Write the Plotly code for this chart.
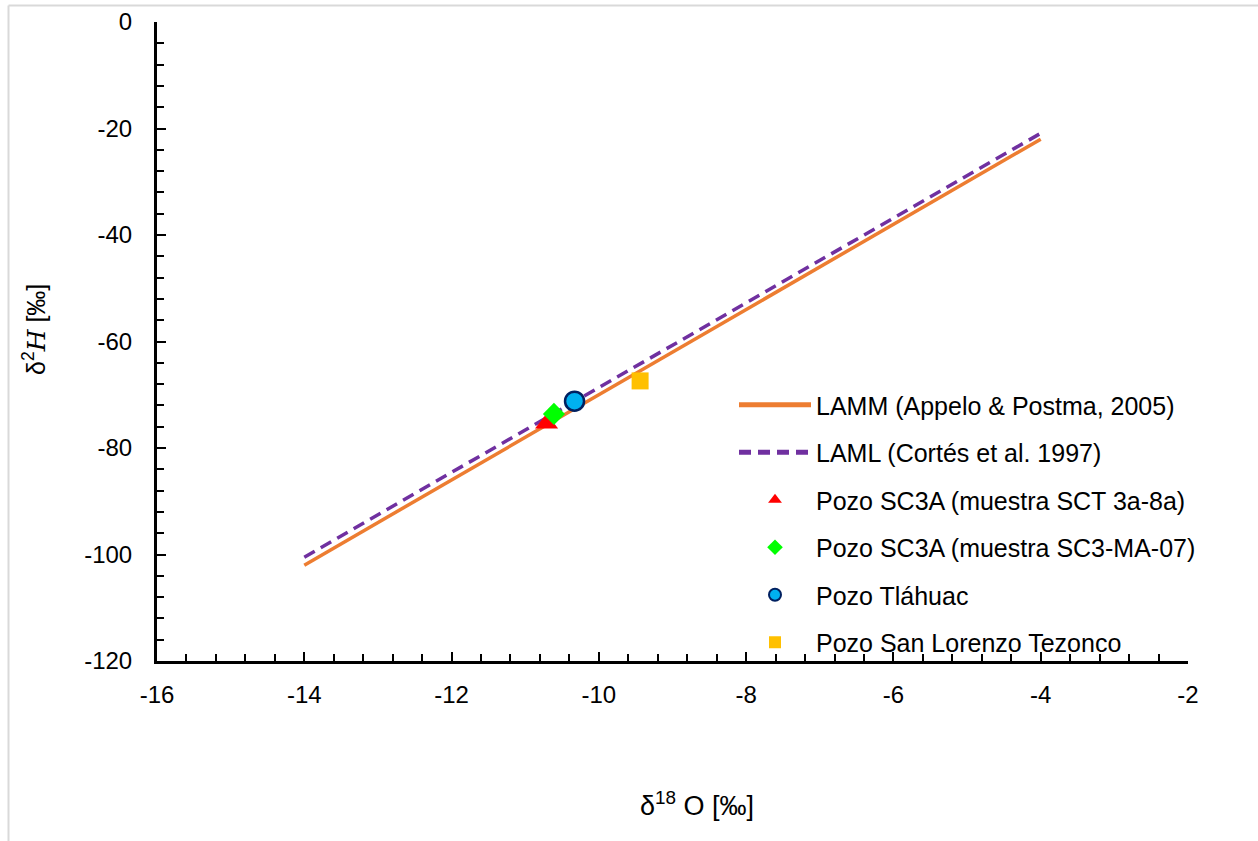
import plotly.graph_objects as go

# Meteoric water lines (endpoints)
lamm_x = [-14, -4]
lamm_y = [-102.0, -22.0]
laml_x = [-14, -4]
laml_y = [-100.5, -20.9]

# Well samples
sct_x = [-10.71]
sct_y = [-75.4]
ma07_x = [-10.61]
ma07_y = [-73.6]
tlah_x = [-10.33]
tlah_y = [-71.2]
slt_x = [-9.44]
slt_y = [-67.4]

names = [
    "LAMM (Appelo & Postma, 2005)",
    "LAML (Cortés et al. 1997)",
    "Pozo SC3A (muestra SCT 3a-8a)",
    "Pozo SC3A (muestra SC3-MA-07)",
    "Pozo Tláhuac",
    "Pozo San Lorenzo Tezonco",
]

x_tickvals = [-16, -14, -12, -10, -8, -6, -4, -2]
x_ticktext = ["-16", "-14", "-12", "-10", "-8", "-6", "-4", "-2"]
y_tickvals = [0, -20, -40, -60, -80, -100, -120]
y_ticktext = ["0", "-20", "-40", "-60", "-80", "-100", "-120"]

FONT = "Liberation Sans, Arial, sans-serif"
FS = 24

fig = go.Figure()
fig.add_trace(go.Scatter(x=lamm_x, y=lamm_y, mode="lines", name=names[0], legendgroup="a",
                         line=dict(color="#ED7D31", width=3.5)))
fig.add_trace(go.Scatter(x=laml_x, y=laml_y, mode="lines", name=names[1], legendgroup="b",
                         line=dict(color="#7030A0", width=3.5, dash="12px,7px")))
fig.add_trace(go.Scatter(x=sct_x, y=sct_y, mode="markers", name=names[2], legendgroup="c",
                         marker=dict(symbol="triangle-up", color="#FF0000", size=20)))
fig.add_trace(go.Scatter(x=ma07_x, y=ma07_y, mode="markers", name=names[3], legendgroup="d",
                         marker=dict(symbol="diamond", color="#00FF00", size=17)))
fig.add_trace(go.Scatter(x=tlah_x, y=tlah_y, mode="markers", name=names[4], legendgroup="e",
                         marker=dict(symbol="circle", color="#00B0F0", size=19,
                                     line=dict(color="#002060", width=2.5))))
fig.add_trace(go.Scatter(x=slt_x, y=slt_y, mode="markers", name=names[5], legendgroup="f",
                         marker=dict(symbol="square", color="#FFC000", size=17)))

L, R, T, B = 157, 70, 22, 180
W, H = 1258, 841
pw = W - L - R
ph = H - T - B

def px(xp):
    return (xp - L) / pw

def py(yp):
    return (H - B - yp) / ph

fig.update_layout(
    width=W, height=H,
    margin=dict(l=L, r=R, t=T, b=B, pad=0, autoexpand=False),
    paper_bgcolor="white", plot_bgcolor="white",
    font=dict(family=FONT, size=FS, color="black"),
    showlegend=True,
    legend=dict(x=px(734), y=py(382), xanchor="left", yanchor="top",
                bgcolor="rgba(0,0,0,0)", font=dict(family=FONT, size=25, color="black"),
                tracegroupgap=12, itemsizing="constant", itemwidth=72),
    xaxis=dict(range=[-16, -2], tickvals=x_tickvals, ticktext=x_ticktext,
               showgrid=False, zeroline=False, automargin=False,
               showline=True, linecolor="black", linewidth=3,
               ticks="inside", ticklen=9, tickwidth=2, tickcolor="black",
               ticklabelstandoff=10,
               minor=dict(dtick=0.4, tick0=-16, ticks="inside", ticklen=7, tickwidth=2,
                          tickcolor="black", showgrid=False),
               tickfont=dict(family=FONT, size=FS, color="black")),
    yaxis=dict(range=[-120, 0], tickvals=y_tickvals, ticktext=y_ticktext,
               showgrid=False, zeroline=False, automargin=False,
               showline=True, linecolor="black", linewidth=3,
               ticks="inside", ticklen=9, tickwidth=2, tickcolor="black",
               ticklabelstandoff=17,
               minor=dict(dtick=4, tick0=0, ticks="inside", ticklen=7, tickwidth=2,
                          tickcolor="black", showgrid=False),
               tickfont=dict(family=FONT, size=FS, color="black")),
    annotations=[
        dict(text="δ<sup>18</sup> O [‰]", xref="paper", yref="paper", x=px(697), y=py(804),
             showarrow=False, xanchor="center", yanchor="middle",
             font=dict(family=FONT, size=27, color="black")),
        dict(text="δ<sup>2</sup><span style='font-family:DejaVu Serif'><i>H</i></span> [‰]",
             xref="paper", yref="paper", x=px(34), y=py(330), textangle=-90,
             showarrow=False, xanchor="center", yanchor="middle",
             font=dict(family=FONT, size=25, color="black")),
    ],
    shapes=[
        dict(type="line", xref="paper", yref="paper", x0=px(8.5), x1=px(1300), y0=py(5.5), y1=py(5.5),
             line=dict(color="#D9D9D9", width=2)),
        dict(type="line", xref="paper", yref="paper", x0=px(8.5), x1=px(8.5), y0=py(5.5), y1=py(900),
             line=dict(color="#D9D9D9", width=2)),
    ],
)

fig.write_html("out.html", config={"displayModeBar": False},
               post_script="document.body.style.margin='0';document.body.style.overflow='hidden';")
